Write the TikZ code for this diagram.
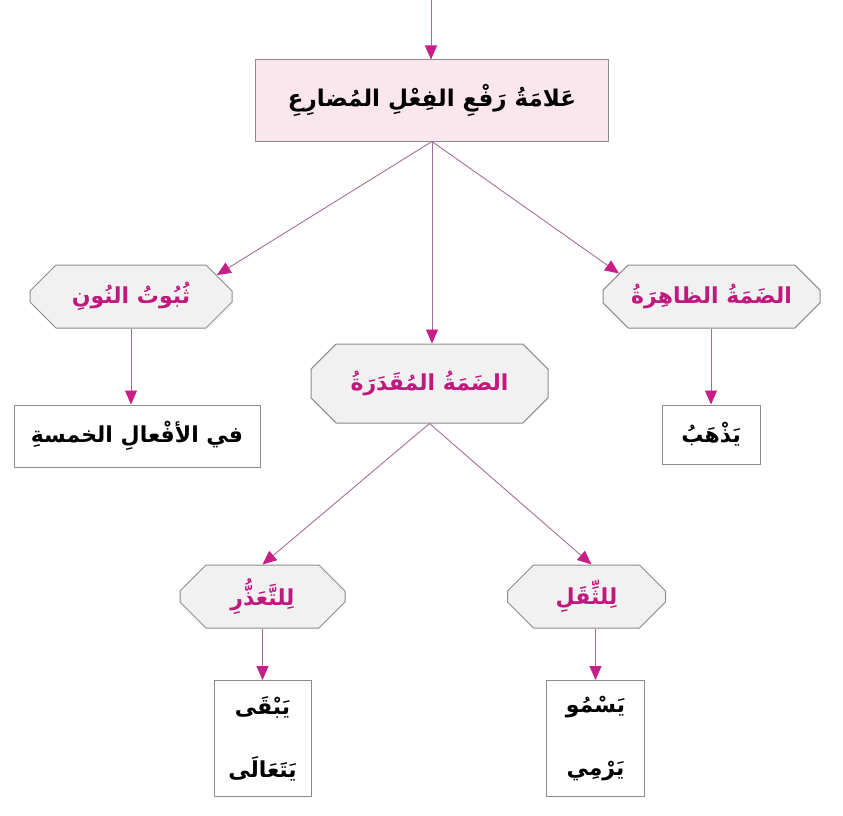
\documentclass[tikz,border=0pt]{standalone}
\usepackage{fontspec}
\usetikzlibrary{arrows.meta,shapes.misc}
\TeXXeTstate=1
\newfontfamily\arabicfont[Script=Arabic]{DejaVu Sans}
\definecolor{linec}{RGB}{165,110,150}
\definecolor{arrc}{RGB}{200,30,135}
\definecolor{labc}{RGB}{192,25,125}
\definecolor{rootfill}{RGB}{252,230,238}
\definecolor{octfill}{RGB}{241,241,241}
\definecolor{bordc}{RGB}{140,140,140}
\tikzset{
  conn/.style={draw=linec, line width=0.9pt, -{Triangle[width=12pt,length=14pt,color=arrc,fill=arrc]}},
  rootbox/.style={rectangle, draw=bordc, line width=1pt, fill=rootfill, inner sep=0pt,
    font=\arabicfont\bfseries\fontsize{23}{28}\selectfont, text=black},
  octbox/.style={chamfered rectangle, chamfered rectangle sep=13pt, draw=bordc, line width=1pt, fill=octfill, inner sep=0pt,
    font=\arabicfont\bfseries\fontsize{22}{28}\selectfont, text=labc},
  leafbox/.style={rectangle, draw=bordc, line width=1pt, fill=white, inner sep=0pt, align=center,
    font=\arabicfont\bfseries\fontsize{22}{63}\selectfont, text=black}
}
\begin{document}
\begin{tikzpicture}[x=1pt,y=-1pt]
\useasboundingbox (0,0) rectangle (843,816);
\node[rootbox, minimum width=353pt, minimum height=81pt] (root) at (432,100.5) {\beginR عَلامَةُ رَفْعِ الفِعْلِ المُضارِعِ\endR};
\node[octbox, minimum width=202pt, minimum height=63pt] (L1) at (131,296.5) {\beginR ثُبُوتُ النُونِ\endR};
\node[octbox, minimum width=237pt, minimum height=79pt] (M1) at (429.5,383.5) {\beginR الضَمَةُ المُقَدَرَةُ\endR};
\node[octbox, minimum width=217pt, minimum height=63pt] (R1) at (711.5,296.5) {\beginR الضَمَةُ الظاهِرَةُ\endR};
\node[leafbox, minimum width=246pt, minimum height=62pt] (L2) at (137,436) {\beginR في الأفْعالِ الخمسةِ\endR};
\node[leafbox, minimum width=98pt, minimum height=59pt] (R2) at (711,434.5) {\beginR يَذْهَبُ\endR};
\node[octbox, minimum width=165pt, minimum height=63pt] (LL) at (262.5,596.5) {\beginR لِلتَّعَذُّرِ\endR};
\node[octbox, minimum width=158pt, minimum height=63pt] (LR) at (586.5,596.5) {\beginR لِلثِّقَلِ\endR};
\node[leafbox, minimum width=97pt, minimum height=116pt] (LLb) at (262.5,738.5) {\beginR يَبْقَى\endR\\\beginR يَتَعَالَى\endR};
\node[leafbox, minimum width=98pt, minimum height=116pt] (LRb) at (595.5,738.5) {\beginR يَسْمُو\endR\\\beginR يَرْمِي\endR};
\coordinate (top) at (431,0);
\draw[conn] (top) -- (top |- root.north);
\draw[conn] (root.south) -- (L1.14);
\draw[conn] (root.south) -- (root.south |- M1.north);
\draw[conn] (root.south) -- (R1.166);
\draw[conn] (L1.south) -- (L1.south |- L2.north);
\draw[conn] (R2.north |- R1.south) -- (R2.north);
\draw[conn] (M1.south) -- (LL.north);
\draw[conn] (M1.south) -- ([xshift=5pt]LR.north);
\draw[conn] (LLb.north |- LL.south) -- (LLb.north);
\draw[conn] (LRb.north |- LR.south) -- (LRb.north);
\end{tikzpicture}
\end{document}
